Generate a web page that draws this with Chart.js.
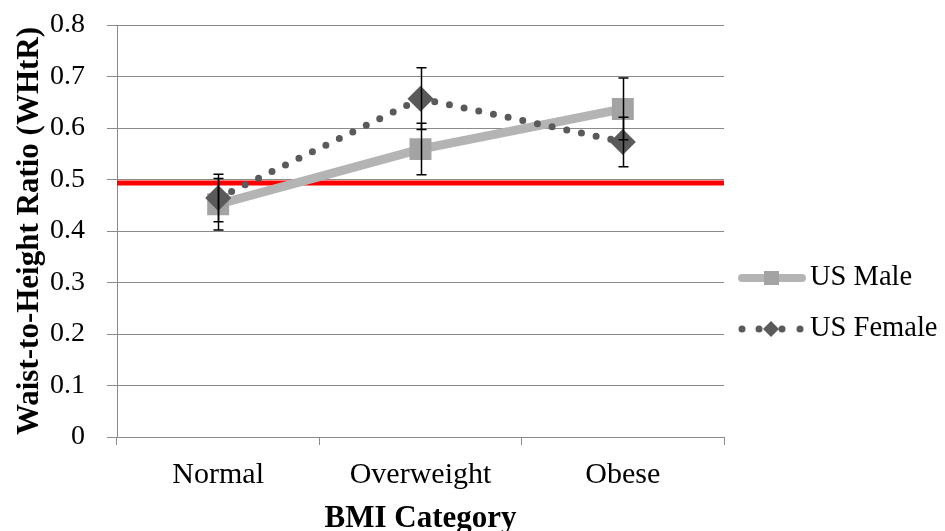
<!DOCTYPE html>
<html>
<head>
<meta charset="utf-8">
<script src="https://cdn.jsdelivr.net/npm/chart.js@4/dist/chart.umd.min.js"></script>
<style>
  html, body { margin: 0; padding: 0; background: #fff; }
  #wrap { width: 945px; height: 531px; }
</style>
</head>
<body>
<div id="wrap"><canvas id="c" width="945" height="531"></canvas></div>
<script>
const categories = ['Normal', 'Overweight', 'Obese'];
const maleValues = [0.452, 0.559, 0.637];
const maleErrors = [0.05, 0.05, 0.06];
const femaleValues = [0.464, 0.657, 0.573];
const femaleErrors = [0.046, 0.06, 0.048];
const seriesNames = ['US Male', 'US Female'];
const yTickLabels = ['0', '0.1', '0.2', '0.3', '0.4', '0.5', '0.6', '0.7', '0.8'];
const thresholdValue = [0.493];

const SERIF = "'Liberation Serif', 'Times New Roman', serif";
const GRID = '#8a8a8a';
const MALE_LINE = '#b4b4b4';
const MALE_POINT = '#a3a3a3';
const FEMALE = '#5a5a5a';

const errorData = [maleErrors, femaleErrors];

const refLinePlugin = {
  id: 'refLine',
  beforeDatasetsDraw(chart) {
    const {ctx, chartArea, scales} = chart;
    const y = scales.y.getPixelForValue(thresholdValue[0]);
    ctx.save();
    ctx.strokeStyle = '#ff0000';
    ctx.lineWidth = 5;
    ctx.beginPath();
    ctx.moveTo(chartArea.left, y);
    ctx.lineTo(chartArea.right, y);
    ctx.stroke();
    ctx.restore();
  }
};

const errorBarPlugin = {
  id: 'errorBars',
  afterDatasetsDraw(chart) {
    const {ctx, scales} = chart;
    ctx.save();
    ctx.strokeStyle = '#000';
    ctx.lineWidth = 1.5;
    chart.data.datasets.forEach((ds, di) => {
      const meta = chart.getDatasetMeta(di);
      meta.data.forEach((pt, i) => {
        const v = ds.data[i], e = errorData[di][i];
        const x = Math.round(pt.x) + 0.5;
        const yTop = scales.y.getPixelForValue(v + e);
        const yBot = scales.y.getPixelForValue(v - e);
        ctx.beginPath();
        ctx.moveTo(x, yTop); ctx.lineTo(x, yBot);
        ctx.moveTo(x - 5, yTop); ctx.lineTo(x + 5, yTop);
        ctx.moveTo(x - 5, yBot); ctx.lineTo(x + 5, yBot);
        ctx.stroke();
      });
    });
    ctx.restore();
  }
};

const legendPlugin = {
  id: 'customLegend',
  afterDraw(chart) {
    const {ctx} = chart;
    ctx.save();
    let y = 278;
    ctx.strokeStyle = MALE_LINE;
    ctx.lineWidth = 8;
    ctx.lineCap = 'round';
    ctx.beginPath(); ctx.moveTo(742, y); ctx.lineTo(802, y); ctx.stroke();
    ctx.fillStyle = MALE_POINT;
    ctx.fillRect(764, y - 7, 15, 14);
    y = 329;
    ctx.fillStyle = FEMALE;
    [742, 759, 782, 800].forEach(x => { ctx.beginPath(); ctx.arc(x, y, 3.5, 0, Math.PI * 2); ctx.fill(); });
    ctx.beginPath();
    ctx.moveTo(771, y - 8); ctx.lineTo(779, y); ctx.lineTo(771, y + 8); ctx.lineTo(763, y); ctx.closePath(); ctx.fill();
    ctx.fillStyle = '#000';
    ctx.font = "28.5px " + SERIF;
    ctx.textBaseline = 'middle';
    ctx.textAlign = 'left';
    ctx.fillText(seriesNames[0], 810, 278);
    ctx.fillText(seriesNames[1], 810, 329);
    ctx.restore();
  }
};

new Chart(document.getElementById('c'), {
  type: 'line',
  data: {
    labels: categories,
    datasets: [
      {
        label: seriesNames[0],
        data: maleValues,
        order: 2,
        borderColor: MALE_LINE,
        borderWidth: 9,
        pointStyle: 'rect',
        pointRadius: 15.5,
        pointBackgroundColor: MALE_POINT,
        pointBorderColor: MALE_POINT,
        pointBorderWidth: 0,
        tension: 0
      },
      {
        label: seriesNames[1],
        data: femaleValues,
        order: 1,
        borderColor: FEMALE,
        borderWidth: 7,
        borderDash: [0, 15],
        borderCapStyle: 'round',
        pointStyle: 'rectRot',
        pointRadius: 13,
        pointBackgroundColor: FEMALE,
        pointBorderColor: FEMALE,
        pointBorderWidth: 0,
        tension: 0
      }
    ]
  },
  options: {
    responsive: false,
    animation: false,
    events: [],
    layout: { padding: { top: 25, right: 221, left: 0, bottom: 0 } },
    plugins: { legend: { display: false }, tooltip: { enabled: false } },
    scales: {
      x: {
        offset: true,
        grid: { offset: true, drawOnChartArea: false, drawTicks: true, tickLength: 8, color: GRID, lineWidth: 1 },
        border: { color: GRID, width: 1 },
        ticks: { color: '#000', font: { family: SERIF, size: 30 }, padding: 12 },
        title: { display: true, text: 'BMI Category', color: '#000', font: { family: SERIF, size: 31, weight: 'bold' }, padding: { top: 0, bottom: -7 } },
        afterFit(s) { s.height = 94; s.paddingLeft = 0; s.paddingRight = 0; }
      },
      y: {
        min: 0, max: 0.8,
        ticks: {
          stepSize: 0.1,
          color: '#000',
          font: { family: SERIF, size: 28 },
          padding: 22,
          callback: (v) => yTickLabels[Math.round(v * 10)]
        },
        grid: { color: GRID, lineWidth: 1, tickLength: 10 },
        border: { color: GRID, width: 1 },
        title: { display: true, text: 'Waist-to-Height Ratio (WHtR)', color: '#000', font: { family: SERIF, size: 31, weight: 'bold' }, padding: { top: 11, bottom: 0 } },
        afterFit(s) { s.width = 117; s.paddingTop = 0; s.paddingBottom = 0; }
      }
    }
  },
  plugins: [refLinePlugin, errorBarPlugin, legendPlugin]
});
</script>
</body>
</html>
